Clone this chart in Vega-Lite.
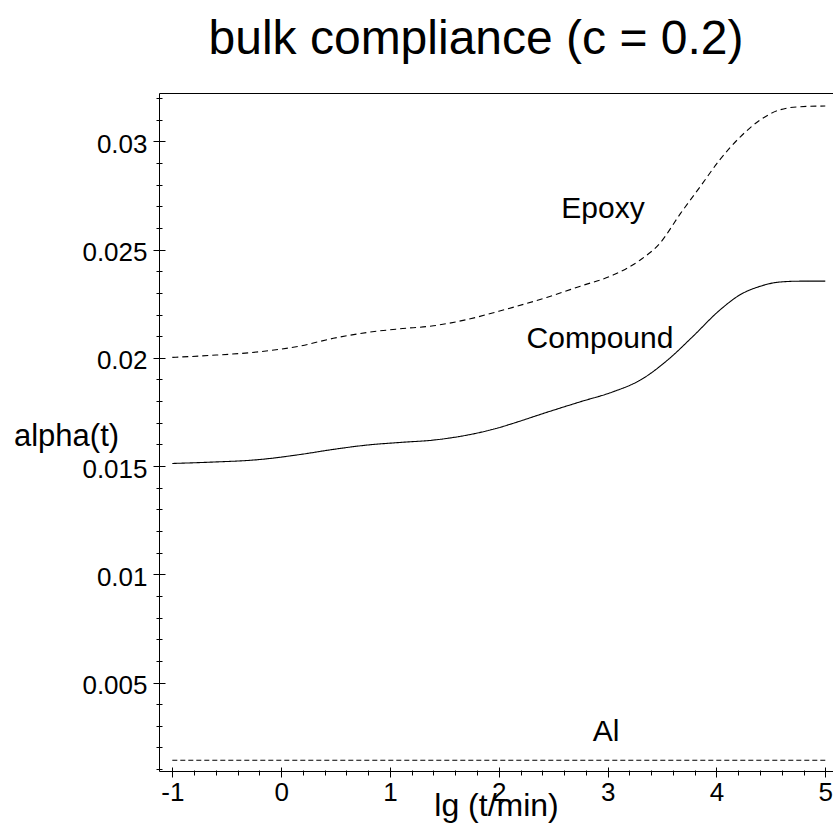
{
  "$schema": "https://vega.github.io/schema/vega-lite/v6.json",
  "autosize": {"type": "none"},
  "padding": {"left": 159, "top": 93, "right": 0, "bottom": 67},
  "width": 674,
  "height": 678,
  "background": "white",
  "config": {"view": {"stroke": null}, "axis": {"grid": false}},
  "title": {"text": "bulk compliance (c = 0.2)", "font": "Liberation Sans", "fontSize": 48, "fontWeight": "normal", "color": "black", "anchor": "middle", "frame": "group", "baseline": "alphabetic", "offset": -14, "dx": -20},
  "datasets": {
    "curves": [
      {"series": "Epoxy", "x": -1, "y": 0.02002},
      {"series": "Epoxy", "x": -0.65, "y": 0.02011},
      {"series": "Epoxy", "x": -0.2, "y": 0.02028},
      {"series": "Epoxy", "x": 0.17, "y": 0.02054},
      {"series": "Epoxy", "x": 0.48, "y": 0.0209},
      {"series": "Epoxy", "x": 0.79, "y": 0.02117},
      {"series": "Epoxy", "x": 1.09, "y": 0.02134},
      {"series": "Epoxy", "x": 1.4, "y": 0.02148},
      {"series": "Epoxy", "x": 1.71, "y": 0.02177},
      {"series": "Epoxy", "x": 2.0, "y": 0.02215},
      {"series": "Epoxy", "x": 2.13, "y": 0.02233},
      {"series": "Epoxy", "x": 2.44, "y": 0.02279},
      {"series": "Epoxy", "x": 2.75, "y": 0.02331},
      {"series": "Epoxy", "x": 3.05, "y": 0.02382},
      {"series": "Epoxy", "x": 3.3, "y": 0.02452},
      {"series": "Epoxy", "x": 3.48, "y": 0.02529},
      {"series": "Epoxy", "x": 3.67, "y": 0.02667},
      {"series": "Epoxy", "x": 3.85, "y": 0.0279},
      {"series": "Epoxy", "x": 4.03, "y": 0.02914},
      {"series": "Epoxy", "x": 4.22, "y": 0.03021},
      {"series": "Epoxy", "x": 4.4, "y": 0.03098},
      {"series": "Epoxy", "x": 4.58, "y": 0.03145},
      {"series": "Epoxy", "x": 4.77, "y": 0.0316},
      {"series": "Epoxy", "x": 5.0, "y": 0.03163},
      {"series": "Compound", "x": -1, "y": 0.01512},
      {"series": "Compound", "x": -0.65, "y": 0.01518},
      {"series": "Compound", "x": -0.2, "y": 0.0153},
      {"series": "Compound", "x": 0.17, "y": 0.01553},
      {"series": "Compound", "x": 0.48, "y": 0.01577},
      {"series": "Compound", "x": 0.79, "y": 0.01597},
      {"series": "Compound", "x": 1.09, "y": 0.01609},
      {"series": "Compound", "x": 1.4, "y": 0.0162},
      {"series": "Compound", "x": 1.71, "y": 0.01643},
      {"series": "Compound", "x": 2.0, "y": 0.01677},
      {"series": "Compound", "x": 2.13, "y": 0.01697},
      {"series": "Compound", "x": 2.44, "y": 0.01748},
      {"series": "Compound", "x": 2.75, "y": 0.01797},
      {"series": "Compound", "x": 3.05, "y": 0.01843},
      {"series": "Compound", "x": 3.3, "y": 0.01897},
      {"series": "Compound", "x": 3.55, "y": 0.01989},
      {"series": "Compound", "x": 3.78, "y": 0.02097},
      {"series": "Compound", "x": 4.03, "y": 0.0222},
      {"series": "Compound", "x": 4.22, "y": 0.02292},
      {"series": "Compound", "x": 4.4, "y": 0.0233},
      {"series": "Compound", "x": 4.58, "y": 0.0235},
      {"series": "Compound", "x": 4.77, "y": 0.02354},
      {"series": "Compound", "x": 5.0, "y": 0.02354}
    ],
    "al": [
      {"series": "Al", "x": -1, "y": 0.00141},
      {"series": "Al", "x": 5, "y": 0.00141}
    ],
    "labels": [
      {"label": "Epoxy", "x": 2.957, "y": 0.02646},
      {"label": "Compound", "x": 2.93, "y": 0.02045},
      {"label": "Al", "x": 2.985, "y": 0.00229}
    ]
  },
  "resolve": {"axis": {"x": "independent", "y": "independent"}},
  "layer": [
    {
      "data": {"name": "curves"},
      "mark": {"type": "line", "color": "black", "strokeWidth": 1.1, "interpolate": "monotone", "clip": true},
      "encoding": {
        "x": {"field": "x", "type": "quantitative", "scale": {"domain": [-1.1222, 5.071], "nice": false, "zero": false},
          "axis": {"orient": "bottom", "values": [-1,-0.8,-0.6,-0.4,-0.2,0,0.2,0.4,0.6,0.8,1,1.2,1.4,1.6,1.8,2,2.2,2.4,2.6,2.8,3,3.2,3.4,3.6,3.8,4,4.2,4.4,4.6,4.8,5],
            "domainColor": "black", "domainWidth": 1, "tickColor": "black", "tickWidth": 1,
            "tickSize": {"condition": {"test": "abs(datum.value-round(datum.value))<1e-6", "value": 6}, "value": 4},
            "labelExpr": "abs(datum.value-round(datum.value))<1e-6 ? '' + round(datum.value) : ''",
            "labelFont": "Liberation Sans", "labelFontSize": 26, "labelColor": "black", "labelPadding": 2, "labelFlush": false, "labelOverlap": false, "labelBound": false,
            "title": "lg (t/min)", "titleFont": "Liberation Sans", "titleFontSize": 32, "titleFontWeight": "normal", "titleColor": "black",
            "titleX": 337, "titleY": 44, "titleAlign": "center", "titleBaseline": "alphabetic"}},
        "y": {"field": "y", "type": "quantitative", "scale": {"domain": [0.000914, 0.032232], "nice": false, "zero": false},
          "axis": {"orient": "left", "values": [0.001,0.002,0.003,0.004,0.005,0.006,0.007,0.008,0.009,0.01,0.011,0.012,0.013,0.014,0.015,0.016,0.017,0.018,0.019,0.02,0.021,0.022,0.023,0.024,0.025,0.026,0.027,0.028,0.029,0.03,0.031,0.032],
            "domainColor": "black", "domainWidth": 1, "tickColor": "black", "tickWidth": 1,
            "tickSize": {"condition": {"test": "abs(datum.value*200-round(datum.value*200))<1e-6", "value": 6}, "value": 3},
            "labelExpr": "abs(datum.value*200-round(datum.value*200))<1e-6 ? format(datum.value, '~g') : ''",
            "labelFont": "Liberation Sans", "labelFontSize": 26, "labelColor": "black", "labelPadding": 6, "labelOffset": 3, "labelFlush": false, "labelOverlap": false, "labelBound": false,
            "title": "alpha(t)", "titleFont": "Liberation Sans", "titleFontSize": 31, "titleFontWeight": "normal", "titleColor": "black", "titleAngle": 0,
            "titleX": -93, "titleY": 352, "titleAlign": "center", "titleBaseline": "alphabetic"}},
        "detail": {"field": "series"},
        "strokeDash": {"field": "series", "type": "nominal", "scale": {"domain": ["Epoxy", "Compound"], "range": [[6, 4], [1, 0]]}, "legend": null}
      }
    },
    {
      "data": {"name": "labels"},
      "mark": {"type": "text", "font": "Liberation Sans", "fontSize": 30, "color": "black", "align": "center", "baseline": "alphabetic"},
      "encoding": {
        "x": {"field": "x", "type": "quantitative",
          "axis": {"orient": "bottom", "values": [-1,-0.8,-0.6,-0.4,-0.2,0,0.2,0.4,0.6,0.8,1,1.2,1.4,1.6,1.8,2,2.2,2.4,2.6,2.8,3,3.2,3.4,3.6,3.8,4,4.2,4.4,4.6,4.8,5],
            "domain": false, "labels": false, "title": null, "tickColor": "black", "tickWidth": 1,
            "tickSize": {"condition": {"test": "abs(datum.value-round(datum.value))<1e-6", "value": -4}, "value": -1}}},
        "y": {"field": "y", "type": "quantitative",
          "axis": {"orient": "left", "values": [0.001,0.002,0.003,0.004,0.005,0.006,0.007,0.008,0.009,0.01,0.011,0.012,0.013,0.014,0.015,0.016,0.017,0.018,0.019,0.02,0.021,0.022,0.023,0.024,0.025,0.026,0.027,0.028,0.029,0.03,0.031,0.032],
            "domain": false, "labels": false, "title": null, "tickColor": "black", "tickWidth": 1,
            "tickSize": {"condition": {"test": "abs(datum.value*200-round(datum.value*200))<1e-6", "value": -6}, "value": -3}}},
        "text": {"field": "label"}
      }
    },
    {
      "data": {"name": "al"},
      "mark": {"type": "line", "color": "black", "strokeWidth": 1.1, "strokeDash": [5, 3]},
      "encoding": {
        "x": {"field": "x", "type": "quantitative",
          "axis": {"orient": "top", "domain": true, "domainColor": "black", "domainWidth": 1, "ticks": false, "labels": false, "title": null}},
        "y": {"field": "y", "type": "quantitative", "axis": null}
      }
    }
  ]
}
